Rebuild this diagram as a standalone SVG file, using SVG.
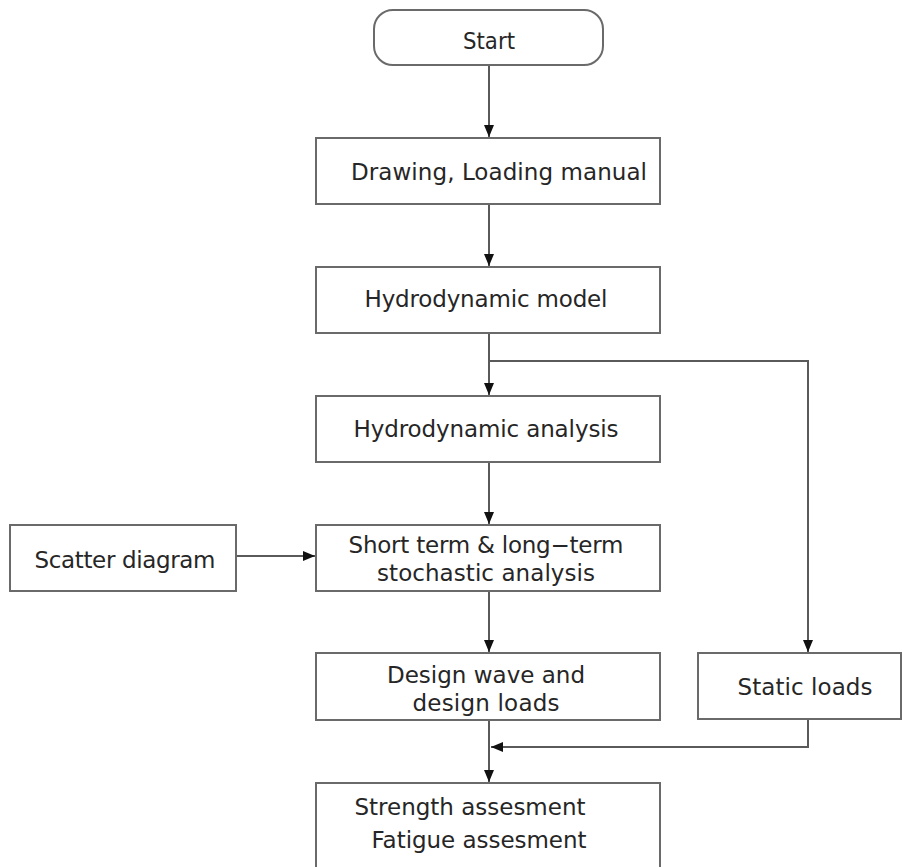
<svg xmlns="http://www.w3.org/2000/svg" width="902" height="867" viewBox="0 0 902 867">
<style>
.box{fill:#fff;stroke:#6a6a6a;stroke-width:2}
.t{font-family:"DejaVu Sans","Liberation Sans",sans-serif;font-size:23px;fill:#262626;text-anchor:middle}
.c{fill:none;stroke:#5a5a5a;stroke-width:2}
</style>
<defs>
<marker id="ah" viewBox="0 0 12 10" refX="12" refY="5" markerWidth="12" markerHeight="10" markerUnits="userSpaceOnUse" orient="auto">
<path d="M0,0 L12,5 L0,10 Z" fill="#111"/>
</marker>
</defs>
<rect width="902" height="867" fill="#fff"/>
<g id="connectors">
<line class="c" x1="489" y1="65" x2="489" y2="137" marker-end="url(#ah)"/>
<line class="c" x1="489" y1="204" x2="489" y2="266" marker-end="url(#ah)"/>
<line class="c" x1="489" y1="333" x2="489" y2="395" marker-end="url(#ah)"/>
<polyline class="c" points="489,361 808,361 808,652" marker-end="url(#ah)"/>
<line class="c" x1="489" y1="462" x2="489" y2="524" marker-end="url(#ah)"/>
<line class="c" x1="236" y1="556" x2="315" y2="556" marker-end="url(#ah)"/>
<line class="c" x1="489" y1="591" x2="489" y2="652" marker-end="url(#ah)"/>
<line class="c" x1="489" y1="720" x2="489" y2="782" marker-end="url(#ah)"/>
<polyline class="c" points="808,719 808,747 491,747" marker-end="url(#ah)"/>
</g>
<g id="start">
<rect class="box" x="374" y="10" width="229" height="55" rx="19"/>
<text class="t" x="489" y="49" textLength="52" lengthAdjust="spacingAndGlyphs">Start</text>
</g>
<g id="drawing">
<rect class="box" x="316" y="138" width="344" height="66"/>
<text class="t" x="499" y="180" textLength="296" lengthAdjust="spacing">Drawing, Loading manual</text>
</g>
<g id="hydro-model">
<rect class="box" x="316" y="267" width="344" height="66"/>
<text class="t" x="486" y="307" textLength="243" lengthAdjust="spacing">Hydrodynamic model</text>
</g>
<g id="hydro-analysis">
<rect class="box" x="316" y="396" width="344" height="66"/>
<text class="t" x="486" y="437" textLength="265" lengthAdjust="spacing">Hydrodynamic analysis</text>
</g>
<g id="scatter">
<rect class="box" x="10" y="525" width="226" height="66"/>
<text class="t" x="125" y="568" textLength="181" lengthAdjust="spacing">Scatter diagram</text>
</g>
<g id="stochastic">
<rect class="box" x="316" y="525" width="344" height="66"/>
<text class="t" x="486" y="553" textLength="275" lengthAdjust="spacing">Short term &amp; long−term</text>
<text class="t" x="486" y="581" textLength="218" lengthAdjust="spacing">stochastic analysis</text>
</g>
<g id="design-wave">
<rect class="box" x="316" y="653" width="344" height="67"/>
<text class="t" x="486" y="683" textLength="198" lengthAdjust="spacing">Design wave and</text>
<text class="t" x="486" y="711" textLength="147" lengthAdjust="spacing">design loads</text>
</g>
<g id="static-loads">
<rect class="box" x="698" y="653" width="203" height="66"/>
<text class="t" x="805" y="695" textLength="135" lengthAdjust="spacing">Static loads</text>
</g>
<g id="assessment">
<rect class="box" x="316" y="783" width="344" height="100"/>
<text class="t" x="470" y="815" textLength="231" lengthAdjust="spacing">Strength assesment</text>
<text class="t" x="479" y="848" textLength="215" lengthAdjust="spacing">Fatigue assesment</text>
</g>
</svg>
